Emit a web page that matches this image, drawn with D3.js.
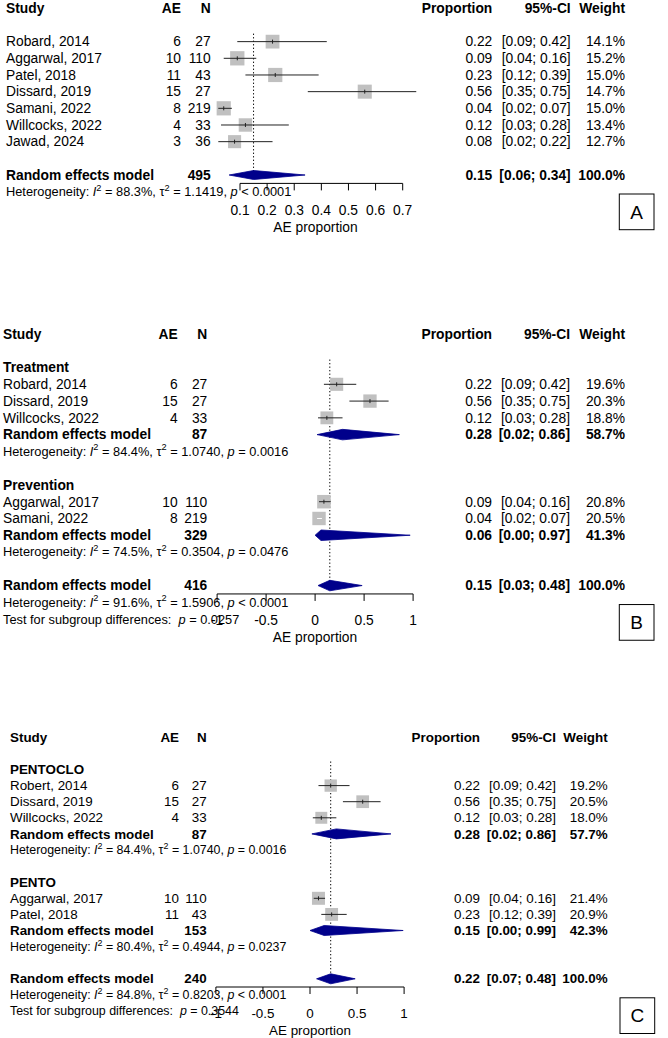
<!DOCTYPE html>
<html><head><meta charset="utf-8">
<script src="https://cdn.jsdelivr.net/npm/d3@7"></script>
<style>
body{margin:0;background:#fff}
svg{display:block}
text{font-family:"Liberation Sans",Arial,Helvetica,sans-serif;fill:#000;white-space:pre}
</style>
</head><body>
<svg id="chart" width="668" height="1038"></svg>
<script>
// ---------- Panel A data ----------
const studyA  = ["Robard, 2014","Aggarwal, 2017","Patel, 2018","Dissard, 2019","Samani, 2022","Willcocks, 2022","Jawad, 2024"];
const groupA  = ["","","","","","",""];
const aeA     = [6,10,11,15,8,4,3];
const nA      = [27,110,43,27,219,33,36];
const propA   = [0.22,0.09,0.23,0.56,0.04,0.12,0.08];
const loA     = [0.09,0.04,0.12,0.35,0.02,0.03,0.02];
const hiA     = [0.42,0.16,0.39,0.75,0.07,0.28,0.22];
const weightA = [14.1,15.2,15.0,14.7,15.0,13.4,12.7];
const subNamesA = [];
const overallA  = [495, 0.15, 0.06, 0.34, 100.0];          // N, est, lower, upper, weight
const overallHetA = ["88.3%","1.1419","< 0.0001"];
const testPA = null;
const ticksA = [0.1,0.2,0.3,0.4,0.5,0.6,0.7];
const tickLabelsA = ["0.1","0.2","0.3","0.4","0.5","0.6","0.7"];

// ---------- Panel B data ----------
const studyB  = ["Robard, 2014","Dissard, 2019","Willcocks, 2022","Aggarwal, 2017","Samani, 2022"];
const groupB  = ["Treatment","Treatment","Treatment","Prevention","Prevention"];
const aeB     = [6,15,4,10,8];
const nB      = [27,27,33,110,219];
const propB   = [0.22,0.56,0.12,0.09,0.04];
const loB     = [0.09,0.35,0.03,0.04,0.02];
const hiB     = [0.42,0.75,0.28,0.16,0.07];
const weightB = [19.6,20.3,18.8,20.8,20.5];
const subNamesB = ["Treatment","Prevention"];
const subNB     = [87,329];
const subEstB   = [0.28,0.06];
const subLoB    = [0.02,0.00];
const subHiB    = [0.86,0.97];
const subWB     = [58.7,41.3];
const subI2B    = ["84.4%","74.5%"];
const subTau2B  = ["1.0740","0.3504"];
const subPB     = ["= 0.0016","= 0.0476"];
const overallB  = [416, 0.15, 0.03, 0.48, 100.0];
const overallHetB = ["91.6%","1.5906","< 0.0001"];
const testPB = "= 0.0257";
const ticksB = [-1,-0.5,0,0.5,1];
const tickLabelsB = ["-1","-0.5","0","0.5","1"];

// ---------- Panel C data ----------
const studyC  = ["Robert, 2014","Dissard, 2019","Willcocks, 2022","Aggarwal, 2017","Patel, 2018"];
const groupC  = ["PENTOCLO","PENTOCLO","PENTOCLO","PENTO","PENTO"];
const aeC     = [6,15,4,10,11];
const nC      = [27,27,33,110,43];
const propC   = [0.22,0.56,0.12,0.09,0.23];
const loC     = [0.09,0.35,0.03,0.04,0.12];
const hiC     = [0.42,0.75,0.28,0.16,0.39];
const weightC = [19.2,20.5,18.0,21.4,20.9];
const subNamesC = ["PENTOCLO","PENTO"];
const subNC     = [87,153];
const subEstC   = [0.28,0.15];
const subLoC    = [0.02,0.00];
const subHiC    = [0.86,0.99];
const subWC     = [57.7,42.3];
const subI2C    = ["84.4%","80.4%"];
const subTau2C  = ["1.0740","0.4944"];
const subPC     = ["= 0.0016","= 0.0237"];
const overallC  = [240, 0.22, 0.07, 0.48, 100.0];
const overallHetC = ["84.8%","0.8203","< 0.0001"];
const testPC = "= 0.3544";
const ticksC = [-1,-0.5,0,0.5,1];
const tickLabelsC = ["-1","-0.5","0","0.5","1"];

// ---------- drawing ----------
const svg = d3.select("#chart");
const f2 = d3.format(".2f"), f1 = d3.format(".1f");
const ciTxt = (lo, hi) => `[${f2(lo)}; ${f2(hi)}]`;
const wTxt = w => `${f1(w)}%`;

function buildRows(P) {
  const rows = [{type:"header"},{type:"blank"}];
  if (P.subNames.length === 0) {
    P.study.forEach((s,i) => rows.push({type:"study", i}));
    rows.push({type:"blank"});
  } else {
    P.subNames.forEach((g,gi) => {
      rows.push({type:"group", label:g});
      P.study.forEach((s,i) => { if (P.group[i] === g) rows.push({type:"study", i}); });
      rows.push({type:"sub", gi});
      rows.push({type:"subhet", gi});
      rows.push({type:"blank"});
    });
  }
  rows.push({type:"overall"});
  rows.push({type:"overhet"});
  if (P.testP) rows.push({type:"test"});
  return rows;
}

function txt(g, x, y, s, opt = {}) {
  return g.append("text").attr("x", x).attr("y", y).attr("dy", "0.35em")
    .attr("text-anchor", opt.anchor || "start")
    .style("font-size", (opt.fs) + "px")
    .style("font-weight", opt.bold ? "bold" : "normal")
    .text(s);
}

function hetLine(g, x, y, fs, i2, tau2, p) {
  const t = g.append("text").attr("x", x).attr("y", y).attr("dy", "0.35em").style("font-size", fs + "px");
  const up = fs * 0.42, sfs = fs * 0.72;
  t.append("tspan").text("Heterogeneity: ");
  t.append("tspan").style("font-style", "italic").text("I");
  t.append("tspan").attr("dy", -up).style("font-size", sfs + "px").text("2");
  t.append("tspan").attr("dy", up).text(" = " + i2 + ", \u03c4");
  t.append("tspan").attr("dy", -up).style("font-size", sfs + "px").text("2");
  t.append("tspan").attr("dy", up).text(" = " + tau2 + ", ");
  t.append("tspan").style("font-style", "italic").text("p");
  t.append("tspan").text(" " + p);
}

function testLine(g, x, y, fs, p) {
  const t = g.append("text").attr("x", x).attr("y", y).attr("dy", "0.35em").style("font-size", fs + "px");
  t.append("tspan").text("Test for subgroup differences:  ");
  t.append("tspan").style("font-style", "italic").text("p");
  t.append("tspan").text(" " + p);
}

function drawPanel(P, L) {
  const g = svg.append("g");
  const rows = buildRows(P);
  const y = d3.scaleLinear().domain([0, 1]).range([L.top, L.top + L.dy]);
  const x = d3.scaleLinear().domain(P.domain).range(L.xr);
  const wmax = d3.max(P.weight);
  const sq = d3.scaleSqrt().domain([0, wmax]).range([0, L.sqMax]);
  const C = L.cols;
  const fs = L.fs, hfs = L.hfs;
  const overallIdx = rows.findIndex(r => r.type === "overall");
  const firstIdx = 2;

  // reference dotted line
  g.append("line")
    .attr("x1", x(P.overall[1])).attr("x2", x(P.overall[1]))
    .attr("y1", y(firstIdx) - 8).attr("y2", y(overallIdx))
    .attr("stroke", "#000").attr("stroke-width", 1).attr("stroke-dasharray", "1.3,2.2");

  const diamond = (est, lo, hi, yy) => {
    const h = L.dh / 2;
    g.append("path")
      .attr("d", `M${x(lo)},${yy}L${x(est)},${yy - h}L${x(hi)},${yy}L${x(est)},${yy + h}Z`)
      .attr("fill", "#00008B").attr("stroke", "#00008B").attr("stroke-width", 0.8);
  };

  rows.forEach((r, ri) => {
    const yy = y(ri);
    if (r.type === "header") {
      txt(g, C.study, yy, "Study", {fs, bold:true});
      txt(g, C.ae, yy, "AE", {fs, bold:true, anchor:"end"});
      txt(g, C.n, yy, "N", {fs, bold:true, anchor:"end"});
      txt(g, C.prop, yy, "Proportion", {fs, bold:true, anchor:"end"});
      txt(g, C.ci, yy, "95%-CI", {fs, bold:true, anchor:"end"});
      txt(g, C.w, yy, "Weight", {fs, bold:true, anchor:"end"});
    } else if (r.type === "group") {
      txt(g, C.study, yy, r.label, {fs, bold:true});
    } else if (r.type === "study") {
      const i = r.i;
      txt(g, C.study, yy, P.study[i], {fs});
      txt(g, C.ae, yy, String(P.ae[i]), {fs, anchor:"end"});
      txt(g, C.n, yy, String(P.n[i]), {fs, anchor:"end"});
      txt(g, C.prop, yy, f2(P.prop[i]), {fs, anchor:"end"});
      txt(g, C.ci, yy, ciTxt(P.lo[i], P.hi[i]), {fs, anchor:"end"});
      txt(g, C.w, yy, wTxt(P.weight[i]), {fs, anchor:"end"});
      const s = sq(P.weight[i]), cx = x(P.prop[i]);
      g.append("rect").attr("x", cx - s / 2).attr("y", yy - s / 2).attr("width", s).attr("height", s)
        .attr("fill", "#c0c0c0");
      const inside = x(P.lo[i]) > cx - s / 2 + 1 && x(P.hi[i]) < cx + s / 2 - 1;
      const col = inside ? "#fff" : "#222";
      g.append("line").attr("x1", x(P.lo[i])).attr("x2", x(P.hi[i])).attr("y1", yy).attr("y2", yy)
        .attr("stroke", col).attr("stroke-width", 1);
      if (!inside) g.append("line").attr("x1", cx).attr("x2", cx).attr("y1", yy - 2).attr("y2", yy + 2)
        .attr("stroke", col).attr("stroke-width", 1);
    } else if (r.type === "sub") {
      const k = r.gi;
      txt(g, C.study, yy, "Random effects model", {fs, bold:true});
      txt(g, C.n, yy, String(P.subN[k]), {fs, bold:true, anchor:"end"});
      txt(g, C.prop, yy, f2(P.subEst[k]), {fs, bold:true, anchor:"end"});
      txt(g, C.ci, yy, ciTxt(P.subLo[k], P.subHi[k]), {fs, bold:true, anchor:"end"});
      txt(g, C.w, yy, wTxt(P.subW[k]), {fs, bold:true, anchor:"end"});
      diamond(P.subEst[k], P.subLo[k], P.subHi[k], yy);
    } else if (r.type === "subhet") {
      const k = r.gi;
      hetLine(g, C.study, yy, hfs, P.subI2[k], P.subTau2[k], P.subP[k]);
    } else if (r.type === "overall") {
      const o = P.overall;
      txt(g, C.study, yy, "Random effects model", {fs, bold:true});
      txt(g, C.n, yy, String(o[0]), {fs, bold:true, anchor:"end"});
      txt(g, C.prop, yy, f2(o[1]), {fs, bold:true, anchor:"end"});
      txt(g, C.ci, yy, ciTxt(o[2], o[3]), {fs, bold:true, anchor:"end"});
      txt(g, C.w, yy, wTxt(o[4]), {fs, bold:true, anchor:"end"});
      diamond(o[1], o[2], o[3], yy);
    } else if (r.type === "overhet") {
      hetLine(g, C.study, yy, hfs, P.overallHet[0], P.overallHet[1], P.overallHet[2]);
    } else if (r.type === "test") {
      testLine(g, C.study, yy, hfs, P.testP);
    }
  });

  // axis
  const ay = y(overallIdx) + L.axisOff;
  const ax = g.append("g").attr("transform", `translate(0,${ay})`);
  ax.append("line").attr("x1", x(P.ticks[0])).attr("x2", x(P.ticks[P.ticks.length - 1]))
    .attr("stroke", "#000").attr("stroke-width", 1);
  P.ticks.forEach((t, i) => {
    ax.append("line").attr("x1", x(t)).attr("x2", x(t)).attr("y1", 0).attr("y2", 7)
      .attr("stroke", "#000").attr("stroke-width", 1);
    txt(ax, x(t), 26.6, P.tickLabels[i], {fs, anchor:"middle"});
  });
  txt(ax, L.xlabX, 43.5, "AE proportion", {fs, anchor:"middle"});

  // panel label box
  const by = y(overallIdx) + L.boxOff;
  g.append("rect").attr("x", L.boxX).attr("y", by).attr("width", 34.7).attr("height", 35.7)
    .attr("fill", "none").attr("stroke", "#000").attr("stroke-width", 1);
  txt(g, L.boxX + 17.35, by + 17.85, L.label, {fs:19, anchor:"middle"});
}

drawPanel(
  {study:studyA, group:groupA, ae:aeA, n:nA, prop:propA, lo:loA, hi:hiA, weight:weightA,
   subNames:subNamesA, overall:overallA, overallHet:overallHetA, testP:testPA,
   domain:[0.1,0.7], ticks:ticksA, tickLabels:tickLabelsA},
  {top:8.3, dy:16.67, xr:[240,402.7], sqMax:14.3, dh:9,
   cols:{study:6, ae:181, n:210.7, prop:492.3, ci:570.7, w:625},
   fs:13.8, hfs:12.8, axisOff:8.4, xlabX:315.5, boxX:619.3, boxOff:19, label:"A"});

drawPanel(
  {study:studyB, group:groupB, ae:aeB, n:nB, prop:propB, lo:loB, hi:hiB, weight:weightB,
   subNames:subNamesB, subN:subNB, subEst:subEstB, subLo:subLoB, subHi:subHiB, subW:subWB,
   subI2:subI2B, subTau2:subTau2B, subP:subPB,
   overall:overallB, overallHet:overallHetB, testP:testPB,
   domain:[-1,1], ticks:ticksB, tickLabels:tickLabelsB},
  {top:334, dy:16.77, xr:[217.1,413.1], sqMax:13.5, dh:10.5,
   cols:{study:3, ae:177.7, n:207.3, prop:492, ci:570, w:625},
   fs:13.8, hfs:12.8, axisOff:8.4, xlabX:315, boxX:619.3, boxOff:19, label:"B"});

drawPanel(
  {study:studyC, group:groupC, ae:aeC, n:nC, prop:propC, lo:loC, hi:hiC, weight:weightC,
   subNames:subNamesC, subN:subNC, subEst:subEstC, subLo:subLoC, subHi:subHiC, subW:subWC,
   subI2:subI2C, subTau2:subTau2C, subP:subPC,
   overall:overallC, overallHet:overallHetC, testP:testPC,
   domain:[-1,1], ticks:ticksC, tickLabels:tickLabelsC},
  {top:737.3, dy:16.1, xr:[215.9,404.1], sqMax:13, dh:10,
   cols:{study:10, ae:179, n:206.7, prop:480, ci:556, w:607.7},
   fs:13.4, hfs:12.4, axisOff:8.2, xlabX:310, boxX:620, boxOff:19, label:"C"});
</script>
</body></html>
